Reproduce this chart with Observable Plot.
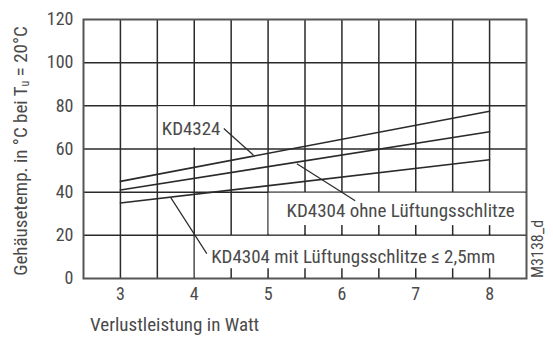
<!DOCTYPE html>
<html>
<head>
<meta charset="utf-8">
<script src="https://cdn.jsdelivr.net/npm/d3@7"></script>
<script src="https://cdn.jsdelivr.net/npm/@observablehq/plot@0.6"></script>
<style>
  body { margin: 0; background: #fff; }
  #chart svg { display: block; }
  #chart svg text { font-stretch: 75%; }
</style>
</head>
<body>
<div id="chart"></div>
<script>
// Case temperature vs. dissipated power (ambient 20 °C)
const watts = [3, 8];
const kd4324 = [45, 77.5];
const kd4304Ohne = [41, 68];
const kd4304Mit = [35, 55];

const seriesNames = ["KD4324", "KD4304 ohne Lüftungsschlitze", "KD4304 mit Lüftungsschlitze ≤ 2,5mm"];

const xTicks = [3, 4, 5, 6, 7, 8];
const xGrid = [3, 3.5, 4, 4.5, 5, 5.5, 6, 6.5, 7, 7.5, 8];
const yTicks = [0, 20, 40, 60, 80, 100, 120];
const yGrid = [20, 40, 60, 80, 100];

const FONT = "Roboto, 'DejaVu Sans Condensed', sans-serif";
const INK = "#2a2a2a";
const TEXT = "#4a4a4a";

const rows = [];
[kd4324, kd4304Ohne, kd4304Mit].forEach((vals, i) => {
  vals.forEach((v, j) => rows.push({ series: seriesNames[i], w: watts[j], t: v }));
});

// label backdrops (white panels that interrupt the grid)
const panels = [
  { x1: 3.5, x2: 4.5, y1: 60, y2: 80 },
  { x1: 5, x2: 8.5, y1: 20, y2: 40 },
  { x1: 4, x2: 8.5, y1: 0, y2: 20 }
];
// short stubs of the grid left at the bottom of the lower panels
const stubs = [
  ...xGrid.filter(x => x > 5).map(x => ({ x, y1: 20, y2: 24.5 })),
  ...xGrid.filter(x => x > 4).map(x => ({ x, y1: 0, y2: 4.5 }))
];
// leader lines from each label to its curve
const leaders = [
  { x1: 4.4, y1: 69.5, x2: 4.8, y2: 57.2 },
  { x1: 5.39, y1: 53.2, x2: 6.18, y2: 36 },
  { x1: 3.68, y1: 37.6, x2: 4.17, y2: 11.5 }
];
const labels = [
  { x: 3.56, y: 69.5, text: seriesNames[0] },
  { x: 5.25, y: 31.3, text: seriesNames[1] },
  { x: 4.23, y: 10.2, text: seriesNames[2] }
];

const chart = Plot.plot({
  width: 553,
  height: 340,
  marginLeft: 83,
  marginRight: 27,
  marginTop: 19,
  marginBottom: 62,
  style: { fontFamily: FONT, fontSize: "18px", color: TEXT, background: "#fff" },
  x: { domain: [2.5, 8.5], ticks: xTicks, tickFormat: "d", tickSize: 0, tickPadding: 9, label: null },
  y: { domain: [0, 120], ticks: yTicks, tickSize: 0, tickPadding: 10, label: null },
  marks: [
    Plot.ruleX(xGrid, { stroke: INK, strokeWidth: 1.5 }),
    Plot.ruleY(yGrid, { stroke: INK, strokeWidth: 1.5 }),
    Plot.rect(panels, { x1: "x1", x2: "x2", y1: "y1", y2: "y2", fill: "#fff", inset: 1 }),
    Plot.ruleX(stubs, { x: "x", y1: "y1", y2: "y2", stroke: INK, strokeWidth: 1.5 }),
    Plot.frame({ stroke: "#555", strokeWidth: 2 }),
    Plot.line(rows, { x: "w", y: "t", z: "series", stroke: INK, strokeWidth: 1.6 }),
    Plot.link(leaders, { x1: "x1", y1: "y1", x2: "x2", y2: "y2", stroke: INK, strokeWidth: 1.2 }),
    Plot.text(labels, { x: "x", y: "y", text: "text", textAnchor: "start", fill: TEXT, fontSize: 19 })
  ]
});

const svg = d3.select(chart);
// y-axis title with subscript u
const yt = svg.append("text")
  .attr("transform", "translate(22,151) rotate(-90)")
  .attr("text-anchor", "middle")
  .attr("dominant-baseline", "middle")
  .attr("fill", TEXT)
  .style("font-family", FONT)
  .style("font-size", "19px");
yt.append("tspan").text("Gehäusetemp. in °C bei T");
yt.append("tspan").attr("dy", 4).style("font-size", "12px").text("u");
yt.append("tspan").attr("dy", -4).text(" = 20°C");

// x-axis title
svg.append("text")
  .attr("x", 90)
  .attr("y", 326)
  .attr("text-anchor", "start")
  .attr("dominant-baseline", "middle")
  .attr("fill", TEXT)
  .style("font-family", FONT)
  .style("font-size", "19px")
  .text("Verlustleistung in Watt");

// drawing number
svg.append("text")
  .attr("transform", "translate(539,278) rotate(-90)")
  .attr("text-anchor", "start")
  .attr("dominant-baseline", "middle")
  .attr("fill", TEXT)
  .style("font-family", FONT)
  .style("font-size", "16px")
  .text("M3138_d");

document.getElementById("chart").appendChild(chart);
</script>
</body>
</html>
